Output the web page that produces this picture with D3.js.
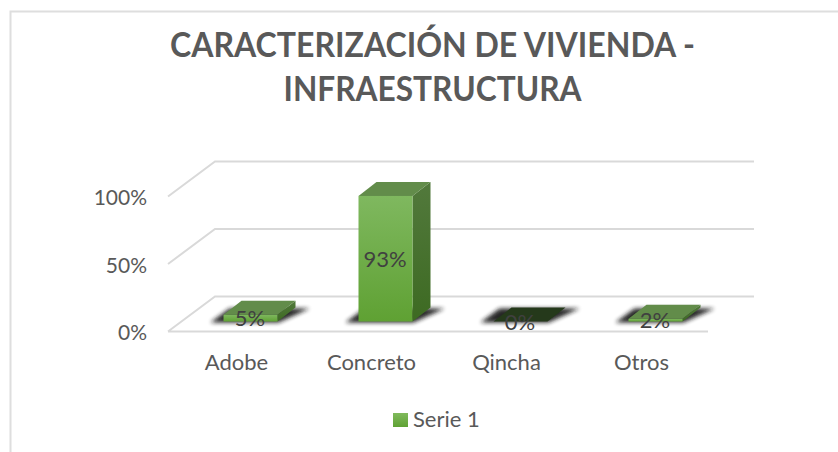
<!DOCTYPE html>
<html><head><meta charset="utf-8">
<style>html,body{margin:0;padding:0;background:#fff}svg{display:block}text{font-family:Lato,"Open Sans",sans-serif}</style>
<script src="https://cdn.jsdelivr.net/npm/d3@7/dist/d3.min.js"></script>
</head><body><div id="c"></div>
<script>
const categories = ["Adobe","Concreto","Qincha","Otros"];
const values = [5,93,0,2];
const yTicks = [0,50,100];
const titleLines = ["CARACTERIZACIÓN DE VIVIENDA -","INFRAESTRUCTURA"];
const seriesName = "Serie 1";

const W=838,H=452;
const svg=d3.select("#c").append("svg").attr("width",W).attr("height",H);
const defs=svg.append("defs");
const grad=(id,stops)=>{const g=defs.append("linearGradient").attr("id",id).attr("x1",0).attr("y1",0).attr("x2",0).attr("y2",1);
  stops.forEach(([o,c])=>g.append("stop").attr("offset",o).attr("stop-color",c));};
grad("front",[[0,"#7fb85f"],[1,"#5fa133"]]);
grad("side",[[0,"#52793c"],[1,"#3d6a22"]]);
grad("leg",[[0,"#80ba5c"],[1,"#5fa234"]]);
defs.append("filter").attr("id","blur").attr("x","-30%").attr("y","-80%").attr("width","160%").attr("height","260%")
  .append("feGaussianBlur").attr("stdDeviation",2);

// chart frame: top and left only
svg.append("path").attr("d","M10.5,452V11.5H838").attr("fill","none").attr("stroke","#dedede").attr("stroke-width",2);

// title
svg.append("g").selectAll("text").data(titleLines).join("text")
  .attr("x",432.5).attr("y",(d,i)=>57+i*44).attr("text-anchor","middle")
  .attr("font-size",34).attr("font-weight",700).attr("fill","#595959")
  .attr("textLength",(d,i)=>i===0?525:298).attr("lengthAdjust","spacingAndGlyphs").text(d=>d);

// projection: wall plane is offset from the front of the floor
const frontX0=168, floorWidth=540, wallDX=47, wallDY=-35;
const yFront=d3.scaleLinear().domain([0,100]).range([331.5,196.5]);
const xBand=d3.scaleBand().domain(categories).range([183,183+floorWidth]).paddingInner(0.6).paddingOuter(0.3);
const barFloor=d3.scaleLinear().domain([0,100]).range([321.5,186.5]);
const dx=18,dy=-14;

// gridlines
const grid=svg.append("g").attr("fill","none").attr("stroke","#d9d9d9").attr("stroke-width",2);
grid.selectAll("path").data(yTicks).join("path")
  .attr("d",t=>{const y=yFront(t);return `M${frontX0},${y}L${frontX0+wallDX},${y+wallDY}H${frontX0+wallDX+floorWidth-1}`+(t===0?`M${frontX0},${y}H${frontX0+floorWidth}`:"");});

// y labels
svg.append("g").selectAll("text").data(yTicks).join("text")
  .attr("x",147).attr("y",t=>yFront(t)+8.5).attr("text-anchor","end")
  .attr("font-size",21).attr("fill","#595959").text(t=>t+"%");

// shadows
const bw=xBand.bandwidth();
svg.append("g").selectAll("path").data(categories).join("path")
  .attr("filter","url(#blur)").attr("fill","#1a1a1a").attr("opacity",.95)
  .attr("d",c=>{const x=xBand(c),y=barFloor(0);
    return `M${x-13},${y+1}H${x+bw+1}L${x+bw+dx+14},${y+dy+1}H${x+dx-12}Z`;});

// bars
const bars=svg.append("g").selectAll("g").data(categories).join("g");
bars.each(function(c,i){
  const g=d3.select(this),x=xBand(c),y0=barFloor(0),y1=barFloor(values[i]);
  if(values[i]===0){
    g.append("path").attr("fill","#25391b").attr("d",`M${x},${y0}H${x+bw}L${x+bw+dx},${y0+dy}H${x+dx}Z`);
    return;
  }
  g.append("path").attr("fill","url(#side)").attr("d",`M${x+bw},${y1}L${x+bw+dx},${y1+dy}V${y0+dy}L${x+bw},${y0}Z`);
  g.append("path").attr("fill","#628c4a").attr("d",`M${x},${y1}H${x+bw}L${x+bw+dx},${y1+dy}H${x+dx}Z`);
  g.append("rect").attr("x",x).attr("y",y1).attr("width",bw).attr("height",y0-y1).attr("fill","url(#front)");
});

// data labels
svg.append("g").selectAll("text").data(categories).join("text")
  .attr("x",c=>xBand(c)+bw/2-0.5)
  .attr("y",(c,i)=>(barFloor(0)+barFloor(values[i]))/2+8).attr("text-anchor","middle")
  .attr("font-size",22).attr("fill","#404040").text((c,i)=>values[i]+"%");

// category labels
svg.append("g").selectAll("text").data(categories).join("text")
  .attr("x",c=>xBand(c)+bw/2-14).attr("y",370).attr("text-anchor","middle")
  .attr("font-size",22).attr("fill","#595959").text(c=>c);

// legend
svg.append("rect").attr("x",393).attr("y",413).attr("width",15).attr("height",14).attr("fill","url(#leg)");
svg.append("text").attr("x",413).attr("y",427).attr("font-size",22).attr("fill","#595959").text(seriesName);
</script></body></html>
